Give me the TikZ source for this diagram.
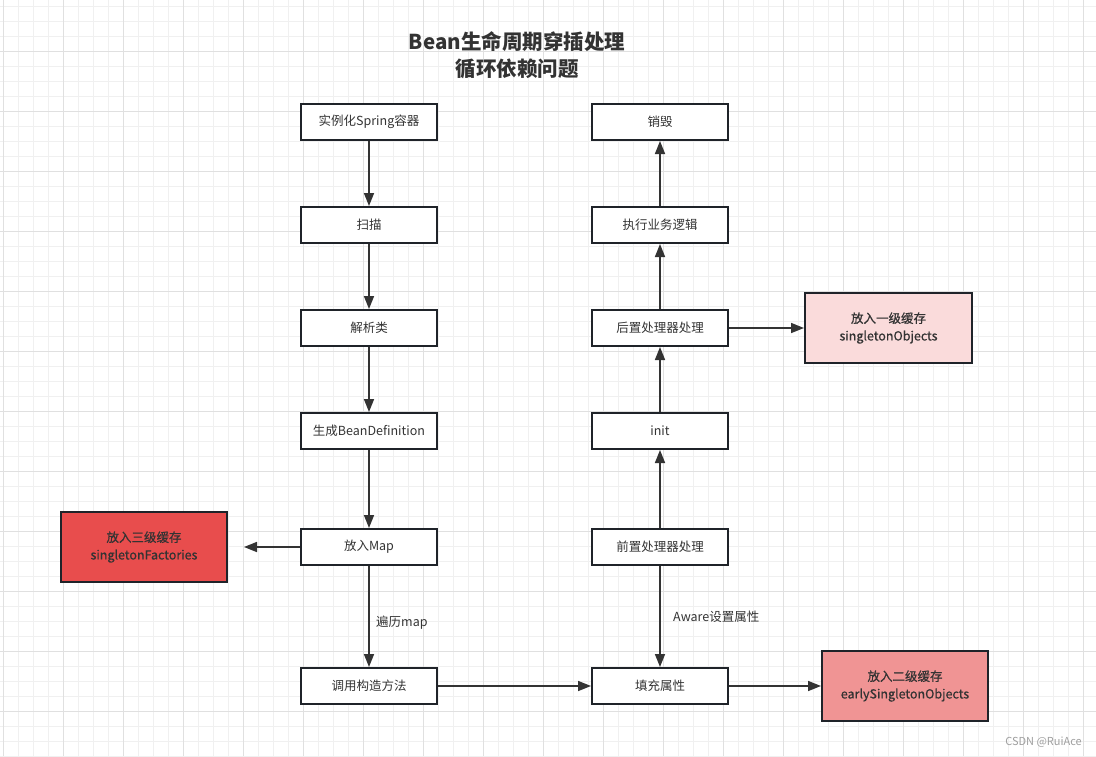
\documentclass[tikz,border=0pt]{standalone}
\usepackage{fontspec}
\setmainfont{Noto Sans CJK SC}
\newfontfamily\medfont{Noto Sans CJK SC}[FakeBold=0.6]
\usetikzlibrary{arrows.meta}
\definecolor{linec}{HTML}{1F2329}
\definecolor{textc}{HTML}{333333}
\definecolor{gridminor}{HTML}{F0F0F0}
\definecolor{gridmajor}{HTML}{E0E0E0}
\definecolor{redA}{HTML}{E84D4D}
\definecolor{redB}{HTML}{F09494}
\definecolor{redC}{HTML}{FADBDB}
\tikzset{
  box/.style={draw=linec, line width=2pt, fill=white, minimum width=136pt, minimum height=36pt,
    inner sep=0pt, text=textc, font=\fontsize{12.5}{15}\selectfont},
  cache/.style={draw=linec, line width=2pt, minimum width=166pt, minimum height=70pt,
    inner sep=0pt, text=textc, align=center, font=\medfont\fontsize{12.5}{17.5}\selectfont},
  arr/.style={draw=textc, line width=1.6pt, -{Triangle[length=13pt,width=10pt]}},
  lbl/.style={text=textc, inner sep=0pt, anchor=west, font=\fontsize{12.5}{15}\selectfont},
}
\begin{document}
\begin{tikzpicture}[x=1pt,y=-1pt]
\useasboundingbox (0,0) rectangle (1096,756);
\fill[white] (0,0) rectangle (1096,756);
% grid
\foreach \i in {0,...,73} {\draw[gridminor, line width=1pt] (3+15*\i,0) -- (3+15*\i,756);}
\foreach \i in {0,...,50} {\draw[gridminor, line width=1pt] (0,6+15*\i) -- (1096,6+15*\i);}
\foreach \i in {0,...,18} {\draw[gridmajor, line width=1pt] (3+60*\i,0) -- (3+60*\i,756);}
\foreach \i in {0,...,12} {\draw[gridmajor, line width=1pt] (0,-9+60*\i) -- (1096,-9+60*\i);}
% title
\node[text=textc, align=center, inner sep=0pt, font=\fontsize{20.5}{26.5}\selectfont\bfseries] (title) at (517,55) {Bean生命周期穿插处理\\循环依赖问题};
% left column
\node[box] (l1) at (369,122) {实例化Spring容器};
\node[box] (l2) at (369,225) {扫描};
\node[box] (l3) at (369,328) {解析类};
\node[box] (l4) at (369,431) {生成BeanDefinition};
\node[box] (l5) at (369,547) {放入Map};
\node[box] (l6) at (369,686) {调用构造方法};
% right column
\node[box] (r1) at (660,122) {销毁};
\node[box] (r2) at (660,225) {执行业务逻辑};
\node[box] (r3) at (660,328) {后置处理器处理};
\node[box] (r4) at (660,431) {init};
\node[box] (r5) at (660,547) {前置处理器处理};
\node[box] (r6) at (660,686) {填充属性};
% caches
\node[cache, fill=redA] (c3) at (144,547) {放入三级缓存\\singletonFactories};
\node[cache, fill=redC, minimum width=167pt] (c1) at (888.5,328) {放入一级缓存\\singletonObjects};
\node[cache, fill=redB] (c2) at (905,686) {放入二级缓存\\earlySingletonObjects};
% arrows
\draw[arr] (l1) -- (l2);
\draw[arr] (l2) -- (l3);
\draw[arr] (l3) -- (l4);
\draw[arr] (l4) -- (l5);
\draw[arr] (l5) -- (l6);
\draw[arr, shorten >=16pt] (l5) -- (c3);
\draw[arr] (l6) -- (r6);
\draw[arr] (r5) -- (r6);
\draw[arr] (r6) -- (c2);
\draw[arr] (r5) -- (r4);
\draw[arr] (r4) -- (r3);
\draw[arr] (r3) -- (r2);
\draw[arr] (r2) -- (r1);
\draw[arr] (r3) -- (c1);
% labels
\node[lbl] (t1) at (376,623) {遍历map};
\node[lbl] (t2) at (673,617) {Aware设置属性};
\node[text=gray!75, inner sep=0pt, anchor=east, font=\fontsize{11}{13}\selectfont] (wm) at (1082,742) {CSDN @RuiAce};
\end{tikzpicture}
\end{document}
